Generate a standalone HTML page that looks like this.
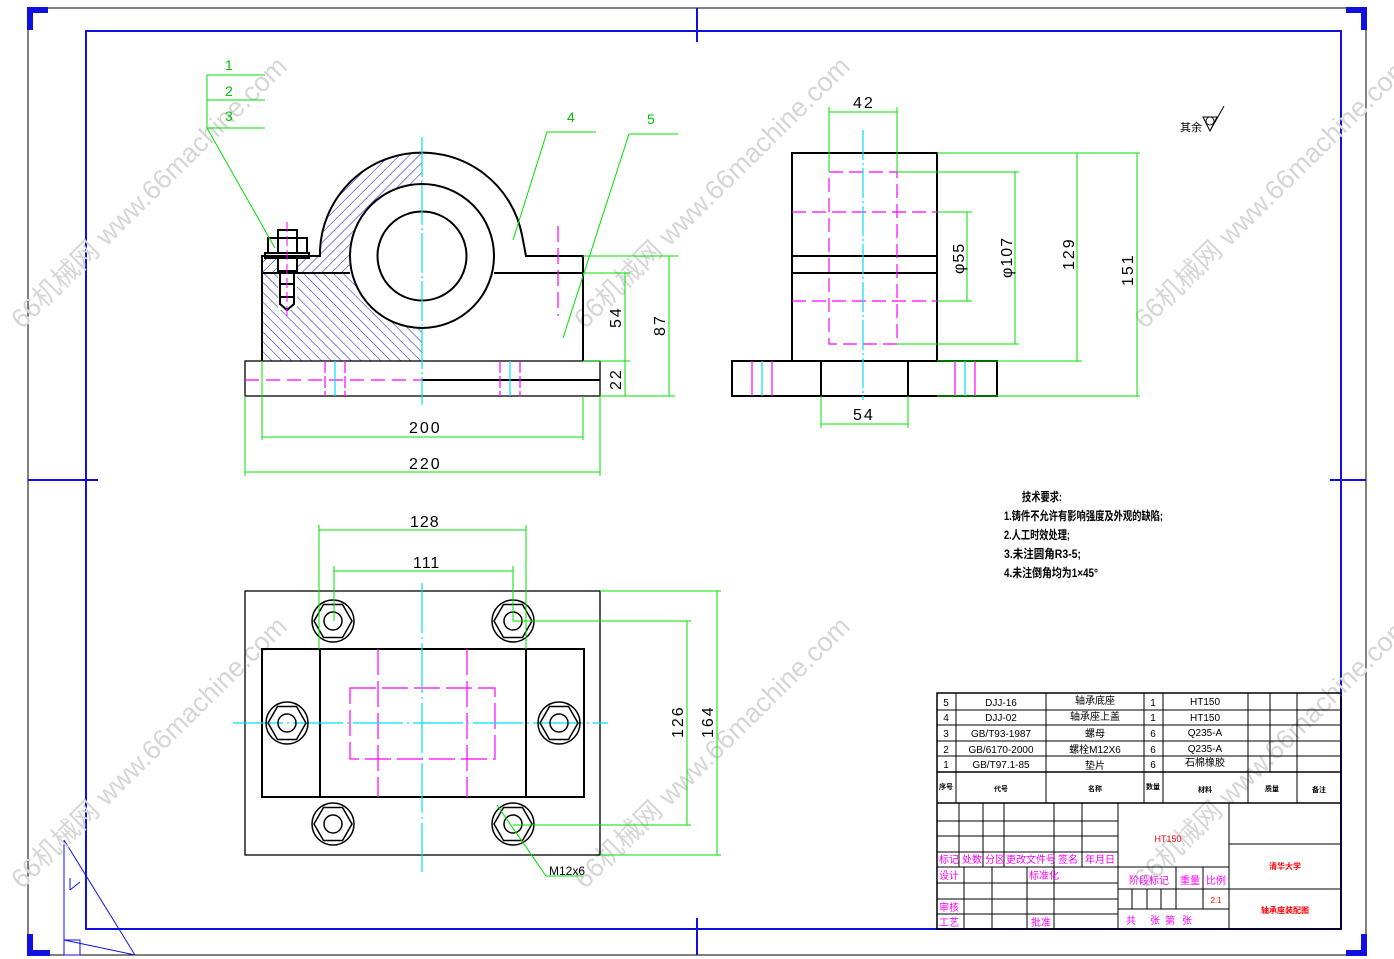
<!DOCTYPE html>
<html><head><meta charset="utf-8"><style>
html,body{margin:0;padding:0;background:#fff;}
svg{display:block;}
text{font-family:"Liberation Sans","Noto Sans CJK SC",sans-serif;}
</style></head><body>
<svg width="1394" height="959" viewBox="0 0 1394 959" xmlns="http://www.w3.org/2000/svg">
<defs>
<pattern id="h1" patternUnits="userSpaceOnUse" width="7" height="7" patternTransform="rotate(45)"><line x1="0" y1="0" x2="0" y2="7" stroke="#1010e0" stroke-width="1"/></pattern>
<pattern id="h2" patternUnits="userSpaceOnUse" width="7" height="7" patternTransform="rotate(-45)"><line x1="0" y1="0" x2="0" y2="7" stroke="#1010e0" stroke-width="1"/></pattern>
</defs>
<rect width="1394" height="959" fill="#fff"/>
<!-- frames -->
<rect x="28" y="8" width="1338" height="947" fill="none" stroke="#000" stroke-width="1"/>
<rect x="86" y="31" width="1255" height="898" fill="none" stroke="#1010e0" stroke-width="2"/>
<g stroke="#1010e0" stroke-width="6" fill="none">
<path d="M30,30 V10 H48"/><path d="M1346,10 H1364 V30"/><path d="M30,934 V953 H50"/><path d="M1346,953 H1364 V934"/>
</g>
<g stroke="#1010e0" stroke-width="2">
<line x1="697" y1="8" x2="697" y2="42"/><line x1="697" y1="918" x2="697" y2="955"/>
<line x1="28" y1="480" x2="98" y2="480"/><line x1="1330" y1="480" x2="1366" y2="480"/>
</g>
<g stroke="#1010e0" stroke-width="1" fill="none">
<line x1="64" y1="840" x2="64" y2="955"/><line x1="64" y1="940" x2="135" y2="955"/><line x1="64" y1="840" x2="135" y2="955"/><rect x="64" y="940" width="16" height="15"/>
<line x1="70" y1="878" x2="70" y2="890"/><line x1="70" y1="890" x2="80" y2="882"/>
</g>

<!-- watermarks -->
<g fill="#d6d6d6" font-size="27">
<text transform="translate(22,330) rotate(-44.5)">66机械网 www.66machine.com</text>
<text transform="translate(585,330) rotate(-44.5)">66机械网 www.66machine.com</text>
<text transform="translate(1145,330) rotate(-44.5)">66机械网 www.66machine.com</text>
<text transform="translate(22,890) rotate(-44.5)">66机械网 www.66machine.com</text>
<text transform="translate(585,890) rotate(-44.5)">66机械网 www.66machine.com</text>
<text transform="translate(1145,890) rotate(-44.5)">66机械网 www.66machine.com</text>
</g>

<!-- FRONT VIEW -->
<path d="M262,256 L320,256 L320,250 A102,102 0 0 1 422,153 L422,273 L262,273 Z" fill="url(#h1)"/>
<rect x="262" y="273" width="160" height="88" fill="url(#h2)"/>
<circle cx="422" cy="256" r="72" fill="#fff"/>
<rect x="278" y="230" width="19" height="80" fill="#fff"/>
<g stroke="#000" stroke-width="2" fill="none">
<path d="M262,361 V256 H320 V250 A102,102 0 0 1 522,235 L526,256 H583 V361"/>
<line x1="262" y1="273" x2="350" y2="273"/><line x1="494" y1="273" x2="583" y2="273"/>
<circle cx="422" cy="256" r="72"/>
<circle cx="422" cy="256" r="44.5"/>
<rect x="245" y="361" width="355" height="35" stroke-width="1.3"/>
<line x1="422" y1="380" x2="600" y2="380"/>
<!-- bolt -->
<rect x="278" y="230" width="19" height="8"/><rect x="268" y="238" width="39" height="15"/>
<rect x="265" y="253" width="44" height="5"/>
<rect x="278" y="258" width="19" height="13"/>
<path d="M280,271 V304 L287,310 L294,304 V271"/>
<line x1="280" y1="284" x2="294" y2="284"/><line x1="280" y1="297" x2="294" y2="297"/>
<line x1="278" y1="238" x2="278" y2="253"/><line x1="297" y1="238" x2="297" y2="253"/>
</g>
<line x1="287" y1="222" x2="287" y2="316" stroke="#ff00ff" stroke-width="1" stroke-dasharray="10,4"/>
<g stroke="#ff00ff" stroke-width="1.2">
<line x1="245" y1="380" x2="422" y2="380" stroke-dasharray="14,7"/>
<line x1="325" y1="361" x2="325" y2="396" stroke-dasharray="12,3"/><line x1="345" y1="361" x2="345" y2="396" stroke-dasharray="12,3"/>
<line x1="500" y1="361" x2="500" y2="396" stroke-dasharray="12,3"/><line x1="520" y1="361" x2="520" y2="396" stroke-dasharray="12,3"/>
<line x1="558" y1="226" x2="558" y2="316" stroke-dasharray="16,6"/>
</g>
<g stroke="#00e0f0" stroke-width="1.2">
<line x1="422" y1="137" x2="422" y2="405" stroke-dasharray="40,3,2,3"/>
<line x1="335" y1="361" x2="335" y2="396"/><line x1="510" y1="361" x2="510" y2="396"/>
</g>
<!-- front dims -->
<g stroke="#00e000" stroke-width="1" fill="none">
<line x1="262" y1="361" x2="262" y2="440"/><line x1="583" y1="396" x2="583" y2="440"/><line x1="262" y1="437" x2="583" y2="437"/>
<line x1="245" y1="396" x2="245" y2="476"/><line x1="600" y1="396" x2="600" y2="476"/><line x1="245" y1="472" x2="600" y2="472"/>
<line x1="583" y1="256" x2="678" y2="256"/><line x1="583" y1="273" x2="630" y2="273"/><line x1="583" y1="361" x2="630" y2="361"/><line x1="600" y1="396" x2="675" y2="396"/>
<line x1="625" y1="273" x2="625" y2="396"/><line x1="669" y1="256" x2="669" y2="396"/>
<path d="M207,75 H265 M207,100 H265 M207,128 H265 M207,75 V128 M207,128 L275,248"/>
<path d="M596,132 H547 L513,240 M678,134 H629 L563,338"/>
</g>
<g fill="#00c000" font-size="14">
<text x="225" y="70">1</text><text x="225" y="96">2</text><text x="225" y="121">3</text>
<text x="567" y="122">4</text><text x="647" y="124">5</text>
</g>
<g fill="#000" font-size="16" font-family="Liberation Sans">
<text x="409" y="433" letter-spacing="2">200</text><text x="409" y="469" letter-spacing="2">220</text>
<text transform="translate(621,328) rotate(-90)" letter-spacing="2">54</text>
<text transform="translate(665,336) rotate(-90)" letter-spacing="2">87</text>
<text transform="translate(621,390) rotate(-90)" letter-spacing="2">22</text>
</g>

<!-- SIDE VIEW -->
<g stroke="#000" stroke-width="2" fill="none">
<rect x="792" y="153" width="145" height="208"/>
<line x1="792" y1="256" x2="937" y2="256"/><line x1="792" y1="273" x2="937" y2="273"/>
<rect x="732" y="361" width="265" height="35"/>
<line x1="821" y1="361" x2="821" y2="396"/><line x1="908" y1="361" x2="908" y2="396"/>
</g>
<g stroke="#ff00ff" stroke-width="1.2" fill="none" stroke-dasharray="14,6">
<rect x="829" y="172" width="68" height="172"/>
<line x1="792" y1="212" x2="937" y2="212"/><line x1="792" y1="301" x2="937" y2="301"/>
</g>
<g stroke="#ff00ff" stroke-width="1.2"><line x1="752" y1="361" x2="752" y2="396"/><line x1="772" y1="361" x2="772" y2="396"/><line x1="955" y1="361" x2="955" y2="396"/><line x1="975" y1="361" x2="975" y2="396"/></g>
<g stroke="#00e0f0" stroke-width="1.2"><line x1="863" y1="130" x2="863" y2="400" stroke-dasharray="30,3,2,3"/><line x1="762" y1="361" x2="762" y2="396"/><line x1="965" y1="361" x2="965" y2="396"/></g>
<g stroke="#00e000" stroke-width="1" fill="none">
<line x1="829" y1="107" x2="829" y2="172"/><line x1="897" y1="107" x2="897" y2="172"/><line x1="829" y1="112" x2="897" y2="112"/>
<line x1="821" y1="396" x2="821" y2="428"/><line x1="908" y1="396" x2="908" y2="428"/><line x1="821" y1="424" x2="908" y2="424"/>
<line x1="937" y1="212" x2="972" y2="212"/><line x1="937" y1="301" x2="972" y2="301"/><line x1="967" y1="212" x2="967" y2="301"/>
<line x1="897" y1="172" x2="1019" y2="172"/><line x1="897" y1="344" x2="1019" y2="344"/><line x1="1015" y1="172" x2="1015" y2="344"/>
<line x1="937" y1="153" x2="1140" y2="153"/><line x1="937" y1="361" x2="1082" y2="361"/><line x1="937" y1="396" x2="1140" y2="396"/>
<line x1="1077" y1="153" x2="1077" y2="361"/><line x1="1137" y1="153" x2="1137" y2="396"/>
</g>
<g fill="#000" font-size="16">
<text x="853" y="108" letter-spacing="2">42</text><text x="853" y="420" letter-spacing="2">54</text>
<text transform="translate(964,274) rotate(-90)" letter-spacing="1">φ55</text>
<text transform="translate(1012,278) rotate(-90)" letter-spacing="1">φ107</text>
<text transform="translate(1074,270) rotate(-90)" letter-spacing="2">129</text>
<text transform="translate(1133,286) rotate(-90)" letter-spacing="2">151</text>
<text x="1180" y="131" font-size="11">其余</text>
</g>
<path d="M1203,117 L1217,117 L1210,131 Z M1210,131 L1224,106" stroke="#000" stroke-width="1" fill="none"/>
<circle cx="1210" cy="121" r="4" fill="none" stroke="#000" stroke-width="0.8"/>

<!-- TOP VIEW -->
<rect x="245" y="591" width="355" height="264" fill="none" stroke="#000" stroke-width="1.3"/>
<g stroke="#000" stroke-width="2" fill="none">
<rect x="262" y="649" width="322" height="148"/>
<line x1="320" y1="649" x2="320" y2="797"/><line x1="526" y1="649" x2="526" y2="797"/>
</g>
<g stroke="#ff00ff" stroke-width="1.2" fill="none" stroke-dasharray="26,6">
<rect x="350" y="688" width="145" height="71"/>
<line x1="378" y1="649" x2="378" y2="797"/><line x1="467" y1="649" x2="467" y2="797"/>
</g>
<g stroke="#00e0f0" stroke-width="1.2" stroke-dasharray="50,4,2,4">
<line x1="422" y1="583" x2="422" y2="872"/><line x1="233" y1="723" x2="608" y2="723"/>
</g>
<g stroke="#000" stroke-width="1.5" fill="none">
<g transform="translate(333,621)"><circle r="21"/><polygon points="19,0 9.5,16.5 -9.5,16.5 -19,0 -9.5,-16.5 9.5,-16.5"/><circle r="9"/></g>
<g transform="translate(513,621)"><circle r="21"/><polygon points="19,0 9.5,16.5 -9.5,16.5 -19,0 -9.5,-16.5 9.5,-16.5"/><circle r="9"/></g>
<g transform="translate(287,723)"><circle r="21"/><polygon points="19,0 9.5,16.5 -9.5,16.5 -19,0 -9.5,-16.5 9.5,-16.5"/><circle r="9"/></g>
<g transform="translate(559,723)"><circle r="21"/><polygon points="19,0 9.5,16.5 -9.5,16.5 -19,0 -9.5,-16.5 9.5,-16.5"/><circle r="9"/></g>
<g transform="translate(333,824)"><circle r="21"/><polygon points="19,0 9.5,16.5 -9.5,16.5 -19,0 -9.5,-16.5 9.5,-16.5"/><circle r="9"/></g>
<g transform="translate(513,824)"><circle r="21"/><polygon points="19,0 9.5,16.5 -9.5,16.5 -19,0 -9.5,-16.5 9.5,-16.5"/><circle r="9"/></g>
</g>
<g stroke="#00e000" stroke-width="1" fill="none">
<line x1="319" y1="525" x2="319" y2="649"/><line x1="526" y1="525" x2="526" y2="649"/><line x1="319" y1="530" x2="526" y2="530"/>
<line x1="334" y1="566" x2="334" y2="621"/><line x1="513" y1="566" x2="513" y2="621"/><line x1="334" y1="571" x2="513" y2="571"/>
<line x1="513" y1="621" x2="691" y2="621"/><line x1="513" y1="825" x2="691" y2="825"/><line x1="687" y1="621" x2="687" y2="825"/>
<line x1="600" y1="591" x2="721" y2="591"/><line x1="600" y1="855" x2="721" y2="855"/><line x1="717" y1="591" x2="717" y2="855"/>
<path d="M497,805 L546,876 H583"/>
</g>
<g fill="#000" font-size="16">
<text x="410" y="527" letter-spacing="1">128</text><text x="413" y="568" letter-spacing="1">111</text>
<text transform="translate(683,738) rotate(-90)" letter-spacing="2">126</text>
<text transform="translate(713,738) rotate(-90)" letter-spacing="2">164</text>
<text x="549" y="875" font-size="12">M12x6</text>
</g>

<!-- NOTES -->
<g fill="#000" font-size="12" font-weight="bold">
<text x="1022" y="501" textLength="40" lengthAdjust="spacingAndGlyphs">技术要求:</text>
<text x="1004" y="520" textLength="159" lengthAdjust="spacingAndGlyphs">1.铸件不允许有影响强度及外观的缺陷;</text>
<text x="1004" y="539" textLength="66" lengthAdjust="spacingAndGlyphs">2.人工时效处理;</text>
<text x="1004" y="558" textLength="77" lengthAdjust="spacingAndGlyphs">3.未注圆角R3-5;</text>
<text x="1004" y="577" textLength="94" lengthAdjust="spacingAndGlyphs">4.未注倒角均为1×45°</text>
</g>

<!-- TITLE BLOCK -->
<g stroke="#000" stroke-width="1" fill="none">
<rect x="937" y="693" width="404" height="236" stroke-width="1.5"/>
<line x1="937" y1="710" x2="1341" y2="710"/><line x1="937" y1="725" x2="1341" y2="725"/>
<line x1="937" y1="741" x2="1341" y2="741"/><line x1="937" y1="756" x2="1341" y2="756"/>
<line x1="937" y1="772" x2="1341" y2="772" stroke-width="1.5"/><line x1="937" y1="803" x2="1341" y2="803" stroke-width="1.5"/>
<line x1="956" y1="693" x2="956" y2="803"/><line x1="1046" y1="693" x2="1046" y2="803"/><line x1="1144" y1="693" x2="1144" y2="803"/>
<line x1="1163" y1="693" x2="1163" y2="803"/><line x1="1248" y1="693" x2="1248" y2="803"/><line x1="1270" y1="693" x2="1270" y2="772"/><line x1="1297" y1="693" x2="1297" y2="803"/>
<line x1="937" y1="821" x2="1118" y2="821"/><line x1="937" y1="836" x2="1118" y2="836"/><line x1="937" y1="852" x2="1118" y2="852"/>
<line x1="937" y1="867" x2="1118" y2="867"/><line x1="937" y1="883" x2="1118" y2="883"/><line x1="937" y1="899" x2="1118" y2="899"/><line x1="937" y1="914" x2="1118" y2="914"/>
<line x1="959" y1="803" x2="959" y2="867"/><line x1="983" y1="803" x2="983" y2="867"/><line x1="1004" y1="803" x2="1004" y2="867"/><line x1="1054" y1="803" x2="1054" y2="929"/><line x1="1082" y1="803" x2="1082" y2="867"/>
<line x1="964" y1="867" x2="964" y2="929"/><line x1="992" y1="867" x2="992" y2="929"/><line x1="1027" y1="867" x2="1027" y2="929"/>
<line x1="1118" y1="803" x2="1118" y2="929"/>
<line x1="1118" y1="867" x2="1229" y2="867"/><line x1="1118" y1="889" x2="1229" y2="889"/><line x1="1118" y1="909" x2="1229" y2="909"/>
<line x1="1176" y1="867" x2="1176" y2="909"/><line x1="1203" y1="867" x2="1203" y2="909"/>
<line x1="1132" y1="889" x2="1132" y2="909"/><line x1="1147" y1="889" x2="1147" y2="909"/><line x1="1161" y1="889" x2="1161" y2="909"/>
<line x1="1229" y1="803" x2="1229" y2="929"/><line x1="1229" y1="844" x2="1341" y2="844"/><line x1="1229" y1="889" x2="1341" y2="889"/>
</g>
<g fill="#000" font-size="10" text-anchor="middle" font-family="Liberation Mono,'Noto Sans CJK SC',monospace">
<text x="946" y="706">5</text><text x="1001" y="706">DJJ-16</text><text x="1095" y="704">轴承底座</text><text x="1153" y="706">1</text><text x="1205" y="705">HT150</text>
<text x="946" y="721">4</text><text x="1001" y="721">DJJ-02</text><text x="1095" y="720">轴承座上盖</text><text x="1153" y="721">1</text><text x="1205" y="721">HT150</text>
<text x="946" y="737">3</text><text x="1001" y="737">GB/T93-1987</text><text x="1095" y="737">螺母</text><text x="1153" y="737">6</text><text x="1205" y="736">Q235-A</text>
<text x="946" y="753">2</text><text x="1001" y="753">GB/6170-2000</text><text x="1095" y="753">螺栓M12X6</text><text x="1153" y="753">6</text><text x="1205" y="752">Q235-A</text>
<text x="946" y="768">1</text><text x="1001" y="768">GB/T97.1-85</text><text x="1095" y="769">垫片</text><text x="1153" y="768">6</text><text x="1205" y="766">石棉橡胶</text>
</g>
<g fill="#000" font-size="7" text-anchor="middle" font-weight="bold">
<text x="946" y="789">序号</text><text x="1001" y="791">代号</text><text x="1095" y="791">名称</text><text x="1153" y="789">数量</text><text x="1205" y="792">材料</text><text x="1272" y="791">质量</text><text x="1319" y="792">备注</text>
</g>
<g fill="#ff00ff" font-size="10">
<text x="939" y="863">标记</text><text x="962" y="863">处数</text><text x="985" y="863">分区</text><text x="1006" y="863">更改文件号</text><text x="1058" y="863">签名</text><text x="1085" y="863">年月日</text>
<text x="939" y="879">设计</text><text x="1029" y="879">标准化</text>
<text x="939" y="911">审核</text><text x="939" y="926">工艺</text><text x="1031" y="926">批准</text>
<text x="1129" y="884">阶段标记</text><text x="1180" y="884">重量</text><text x="1206" y="884">比例</text>
<text x="1126" y="924">共</text><text x="1150" y="924">张</text><text x="1165" y="924">第</text><text x="1182" y="924">张</text>
</g>
<g fill="#ff0000" font-size="8" text-anchor="middle">
<text x="1168" y="842" font-size="9">HT150</text>
<text x="1216" y="903">2:1</text>
<text x="1285" y="869" font-weight="bold">清华大学</text>
<text x="1285" y="913" font-weight="bold">轴承座装配图</text>
</g>
</svg>
</body></html>
